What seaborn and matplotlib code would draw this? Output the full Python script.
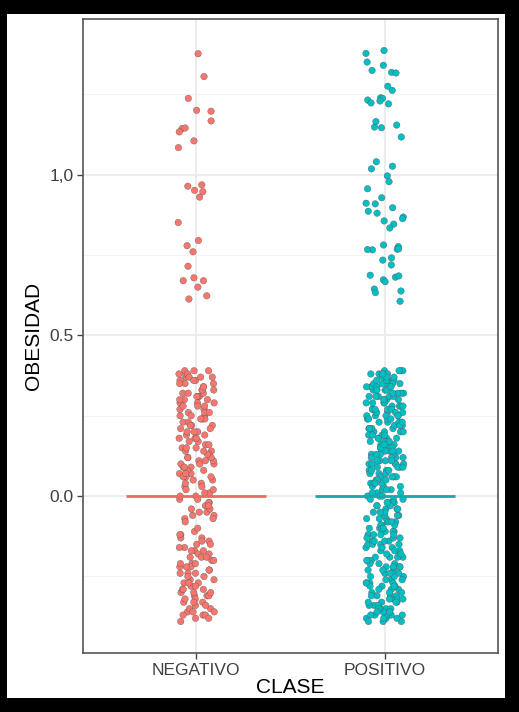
import numpy as np
import pandas as pd
import matplotlib
matplotlib.use('Agg')
import matplotlib.pyplot as plt
from matplotlib.patches import Rectangle
import seaborn as sns

# categorias y colores (paleta por defecto de ggplot)
clases = ['NEGATIVO', 'POSITIVO']
colores = ['#F8766D', '#00BFC4']

# valores (obesidad con jitter vertical)
neg_alta = [1.376, 1.305, 1.237, 1.200, 1.197, 1.167, 1.143, 1.145, 1.133,
            1.105, 1.084, 0.951, 0.968, 0.964, 0.947, 0.930, 0.851, 0.795,
            0.779, 0.760, 0.715, 0.670, 0.679, 0.670, 0.650, 0.623, 0.613]

neg_baja = [
    0.37, -0.21, 0.05, 0.29, -0.33, 0.14, -0.02, 0.22, -0.12, 0.33,
    -0.27, 0.09, 0.38, -0.06, 0.18, -0.36, 0.26, -0.17, 0.01, 0.31,
    -0.24, 0.12, -0.31, 0.35, 0.03, -0.15, 0.21, -0.38, 0.07, 0.27,
    0.16, -0.29, 0.32, -0.04, 0.24, -0.19, 0.11, -0.35, 0.39, -0.01,
    0.19, -0.26, 0.06, 0.34, -0.13, 0.28, -0.32, 0.10, -0.22, 0.36,
    -0.07, 0.23, -0.30, 0.15, -0.18, 0.30, 0.02, -0.37, 0.20, -0.25,
    0.08, 0.37, -0.14, 0.25, -0.34, 0.13, -0.03, 0.33, -0.20, 0.04,
    -0.28, 0.17, 0.39, -0.16, 0.26, -0.05, 0.10, -0.23, 0.31, -0.39,
    0.00, 0.22, -0.31, 0.36, -0.11, 0.14, -0.27, 0.29, 0.06, -0.19,
    0.32, -0.36, 0.18, -0.08, 0.24, 0.03, -0.24, 0.38, -0.14, 0.11,
    -0.30, 0.27, 0.07, -0.21, 0.35, -0.01, 0.16, -0.33, 0.20, -0.17,
    0.12, -0.26, 0.30, -0.04, 0.23, -0.37, 0.09, 0.34, -0.18, 0.01,
    -0.22, 0.19, -0.29, 0.37, 0.05, -0.15, 0.28, -0.35, 0.13, -0.06,
    0.25, -0.32, 0.15, 0.39, -0.20, 0.08, -0.28, 0.32, -0.02, 0.21,
    -0.13, 0.04, -0.38, 0.26, 0.17, -0.25, 0.36, -0.10, 0.10, -0.31,
    0.29, -0.19, 0.02, 0.33, -0.34, 0.22, -0.07, 0.14, -0.23, 0.38,
    -0.16, 0.11, -0.27, 0.31, 0.06, -0.36, 0.18, -0.03, 0.25, -0.21,
    0.35, -0.30, 0.20, -0.12, 0.00, 0.28, -0.24, 0.09, -0.33, 0.15,
    -0.05, 0.24, -0.17, 0.37, -0.29, 0.12, 0.30, -0.37, 0.07, -0.22,
]

pos_alta = [1.386, 1.377, 1.350, 1.340, 1.324, 1.318, 1.316, 1.275, 1.262,
            1.239, 1.232, 1.237, 1.229, 1.220, 1.223, 1.148, 1.154, 1.165,
            1.146, 1.117, 1.040, 1.018, 1.026, 0.996, 0.978, 0.956, 0.928,
            0.911, 0.909, 0.897, 0.886, 0.880, 0.868, 0.863, 0.856, 0.846,
            0.834, 0.781, 0.776, 0.766, 0.768, 0.767, 0.769, 0.741, 0.734,
            0.719, 0.673, 0.681, 0.687, 0.667, 0.685, 0.638, 0.644, 0.633,
            0.606]

pos_baja = [
    0.38, -0.12, 0.21, -0.33, 0.06, 0.29, -0.24, 0.14, -0.03, 0.35,
    -0.37, 0.10, -0.18, 0.25, 0.01, -0.29, 0.33, -0.08, 0.17, -0.21,
    0.27, -0.35, 0.04, 0.19, -0.14, 0.39, -0.26, 0.12, -0.01, 0.31,
    -0.19, 0.23, -0.31, 0.08, 0.36, -0.06, 0.15, -0.38, 0.28, -0.10,
    0.02, -0.27, 0.34, -0.16, 0.20, -0.34, 0.11, 0.26, -0.04, 0.37,
    -0.22, 0.16, -0.11, 0.30, -0.36, 0.05, 0.22, -0.28, 0.13, -0.07,
    0.32, -0.15, 0.09, -0.32, 0.24, -0.02, 0.38, -0.23, 0.18, -0.39,
    0.07, 0.27, -0.20, 0.35, -0.09, 0.12, -0.30, 0.21, 0.00, -0.25,
    0.33, -0.13, 0.17, -0.37, 0.03, 0.29, -0.17, 0.10, -0.33, 0.24,
    -0.05, 0.39, -0.28, 0.14, -0.12, 0.31, -0.21, 0.06, 0.25, -0.35,
    0.19, -0.08, 0.36, -0.24, 0.01, -0.31, 0.22, -0.15, 0.34, 0.09,
    -0.38, 0.28, -0.03, 0.15, -0.19, 0.37, -0.27, 0.04, 0.20, -0.11,
    0.30, -0.34, 0.11, -0.06, 0.26, -0.22, 0.35, -0.14, 0.07, -0.29,
    0.16, -0.01, 0.38, -0.36, 0.23, -0.10, 0.13, -0.25, 0.32, -0.18,
    0.05, -0.32, 0.27, -0.04, 0.18, -0.39, 0.10, 0.34, -0.20, 0.02,
    -0.26, 0.21, -0.13, 0.36, -0.07, 0.14, -0.33, 0.29, -0.16, 0.08,
    0.25, -0.37, 0.00, 0.31, -0.23, 0.17, -0.09, 0.39, -0.30, 0.12,
    -0.02, 0.22, -0.17, 0.33, -0.27, 0.06, 0.28, -0.12, 0.19, -0.35,
    0.37, -0.21, 0.10, -0.05, 0.24, -0.38, 0.15, -0.28, 0.03, 0.30,
    -0.14, 0.26, -0.31, 0.08, 0.35, -0.08, 0.20, -0.24, 0.13, -0.36,
    0.04, 0.32, -0.19, 0.16, -0.34, 0.23, -0.02, 0.38, -0.11, 0.11,
    -0.29, 0.18, -0.06, 0.27, -0.37, 0.01, 0.34, -0.16, 0.09, -0.22,
    0.29, -0.10, 0.14, -0.26, 0.36, -0.03, 0.21, -0.32, 0.07, 0.25,
    -0.18, 0.02, -0.35, 0.31, -0.13, 0.17, -0.23, 0.39, -0.07, 0.12,
    0.22, -0.30, 0.05, 0.35, -0.15, 0.27, -0.39, 0.10, -0.01, 0.33,
    -0.25, 0.15, -0.09, 0.24, -0.33, 0.08, 0.37, -0.20, 0.19, -0.04,
    0.30, -0.36, 0.13, -0.12, 0.03, 0.26, -0.28, 0.20, -0.17, 0.36,
    0.00, -0.22, 0.32, -0.08, 0.16, -0.31, 0.23, -0.14, 0.09, -0.37,
    0.28, -0.05, 0.18, -0.27, 0.38, -0.19, 0.06, 0.34, -0.10, 0.14,
    -0.32, 0.21, -0.02, 0.11, -0.24, 0.31, -0.15, 0.04, 0.25, -0.38,
]

medianas = [0.0, 0.0]
yticks = [0.0, 0.5, 1.0]
ytick_labels = ['0.0', '0.5', '1,0']
yminor = [-0.25, 0.25, 0.75, 1.25]

neg = neg_alta + neg_baja
pos = pos_alta + pos_baja
df = pd.DataFrame({'CLASE': [clases[0]] * len(neg) + [clases[1]] * len(pos),
                   'OBESIDAD': neg + pos})

sns.set_theme(style='white')
plt.rcParams['font.family'] = ['Liberation Sans', 'DejaVu Sans']

fig = plt.figure(figsize=(5.19, 7.12), dpi=100, facecolor='black')
# marco negro alrededor del grafico
fig.patches.append(Rectangle((7 / 519, 14 / 712), 498 / 519, 684 / 712,
                             transform=fig.transFigure, facecolor='white',
                             edgecolor='none', zorder=-5))
ax = fig.add_axes([83 / 519, 59 / 712, 415 / 519, 634 / 712])
ax.set_facecolor('white')

np.random.seed(3)
sns.stripplot(data=df, x='CLASE', y='OBESIDAD', hue='CLASE', palette=colores,
              order=clases, hue_order=clases, jitter=0.1, size=4.7,
              linewidth=0.25, edgecolor='#555555', legend=False, ax=ax, zorder=3)

# linea de la mediana
pos_x = np.arange(len(clases))
ax.hlines(medianas, pos_x - 0.37, pos_x + 0.37, colors=['#EE6A62', '#13A9AD'],
          lw=2, zorder=4)

ax.set_xlim(-0.6, 1.6)
ax.set_ylim(-0.488, 1.484)
ax.set_yticks(yticks)
ax.set_yticklabels(ytick_labels)
ax.set_yticks(yminor, minor=True)

ax.set_axisbelow(True)
ax.grid(which='major', color='#EBEBEB', lw=1.3)
ax.grid(which='minor', axis='y', color='#F3F3F3', lw=0.8)

for sp in ax.spines.values():
    sp.set_visible(True)
    sp.set_color('#555555')
    sp.set_linewidth(1.2)

ax.tick_params(which='major', direction='out', length=4, width=1,
               color='#444444', labelsize=12.5, labelcolor='#404040', pad=3,
               left=True, bottom=True)
ax.tick_params(which='minor', length=0)

ax.set_xlabel('CLASE', fontsize=15, color='black')
ax.set_ylabel('OBESIDAD', fontsize=15, color='black')
ax.xaxis.set_label_coords(0.5, -0.039)
ax.yaxis.set_label_coords(-0.096, 0.5)

fig.savefig('out.png', dpi=100, facecolor='black')
